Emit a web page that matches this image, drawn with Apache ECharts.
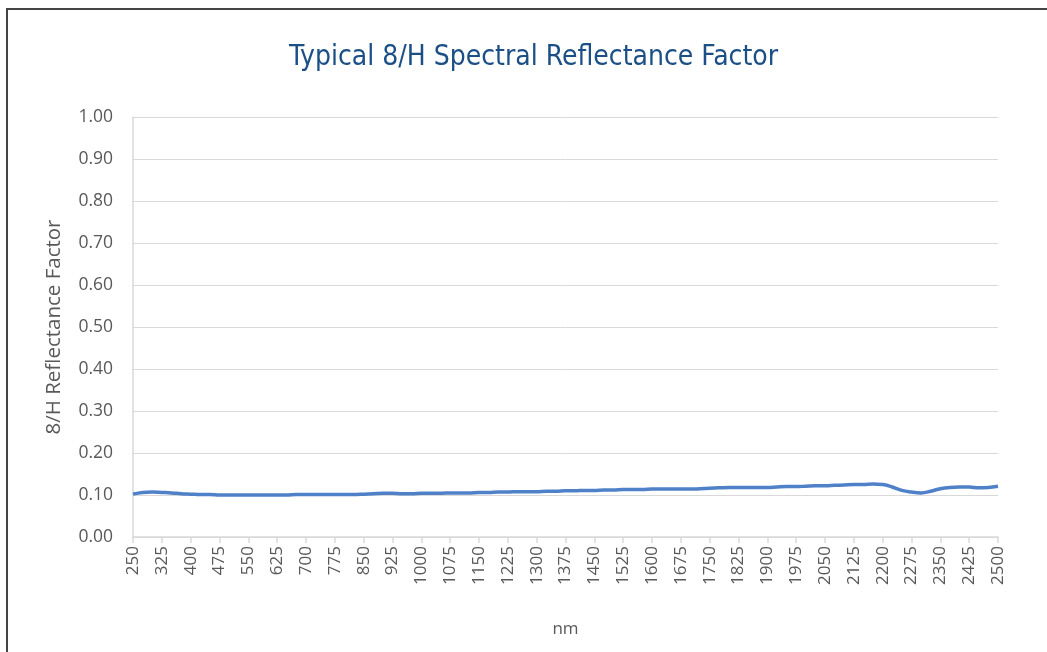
<!DOCTYPE html>
<html>
<head>
<meta charset="utf-8">
<script src="https://cdn.jsdelivr.net/npm/echarts@6/dist/echarts.min.js"></script>
<style>
  html, body { margin: 0; padding: 0; background: #fff; }
  .frame { position: absolute; left: 6px; top: 8px; width: 1060px; height: 660px; border: 2px solid #444; box-sizing: border-box; }
  #chart { position: absolute; left: 0; top: 0; width: 1047px; height: 652px; }
</style>
</head>
<body>
<div class="frame"></div>
<div id="chart"></div>
<script>
// wavelength (nm), every 25 nm
const wavelengths = []
for (let nm = 250; nm <= 2500; nm += 25) wavelengths.push(String(nm))

// reflectance factor
const reflectance = [
  0.102, 0.106, 0.107, 0.106, 0.105, 0.103, 0.102, 0.101, 0.101, 0.100,
  0.100, 0.100, 0.100, 0.100, 0.100, 0.100, 0.100, 0.101, 0.101, 0.101,
  0.101, 0.101, 0.101, 0.101, 0.102, 0.103, 0.104, 0.104, 0.103, 0.103,
  0.104, 0.104, 0.104, 0.105, 0.105, 0.105, 0.106, 0.106, 0.107, 0.107,
  0.108, 0.108, 0.108, 0.109, 0.109, 0.110, 0.110, 0.111, 0.111, 0.112,
  0.112, 0.113, 0.113, 0.113, 0.114, 0.114, 0.114, 0.114, 0.114, 0.115,
  0.116, 0.117, 0.118, 0.118, 0.118, 0.118, 0.118, 0.119, 0.120, 0.120,
  0.121, 0.122, 0.122, 0.123, 0.124, 0.125, 0.125, 0.126, 0.125, 0.119,
  0.111, 0.107, 0.105, 0.109, 0.115, 0.118, 0.119, 0.119, 0.117, 0.118,
  0.121
]

const grey = '#595959'
const font = 'Open Sans'
const chart = echarts.init(document.getElementById('chart'))
chart.setOption({
  animation: false,
  title: {
    text: 'Typical 8/H Spectral Reflectance Factor',
    left: 284,
    top: 39,
    textStyle: {
      color: '#1b4f86',
      fontFamily: '"DejaVu Sans Condensed", Roboto',
      fontWeight: 'normal',
      fontSize: 28
    }
  },
  grid: { left: 133, right: 49, top: 117, bottom: 115 },
  xAxis: {
    type: 'category',
    data: wavelengths,
    boundaryGap: false,
    name: 'nm',
    nameLocation: 'middle',
    nameGap: 84,
    nameTextStyle: { color: grey, fontSize: 17, fontFamily: font },
    axisLine: { lineStyle: { color: '#d9d9d9', width: 1.5 } },
    axisTick: { interval: 2, length: 6, lineStyle: { color: '#d9d9d9', width: 1.5 } },
    axisLabel: {
      interval: 2,
      rotate: 90,
      margin: 9,
      color: grey,
      fontSize: 17,
      fontFamily: font
    }
  },
  yAxis: {
    type: 'value',
    min: 0,
    max: 1,
    interval: 0.1,
    name: '8/H Reflectance Factor',
    nameLocation: 'middle',
    nameGap: 68,
    nameTextStyle: { color: grey, fontSize: 20.5, fontFamily: font },
    axisLine: { show: true, lineStyle: { color: '#d9d9d9', width: 1.5 } },
    axisTick: { show: false },
    axisLabel: {
      color: grey,
      fontSize: 17.5,
      margin: 20,
      fontFamily: font,
      formatter: v => v.toFixed(2)
    },
    splitLine: { lineStyle: { color: '#d9d9d9', width: 1 } }
  },
  series: [{
    type: 'line',
    data: reflectance,
    smooth: 0.4,
    symbol: 'none',
    lineStyle: { color: '#4f81c9', width: 3.5 }
  }]
})
</script>
</body>
</html>
